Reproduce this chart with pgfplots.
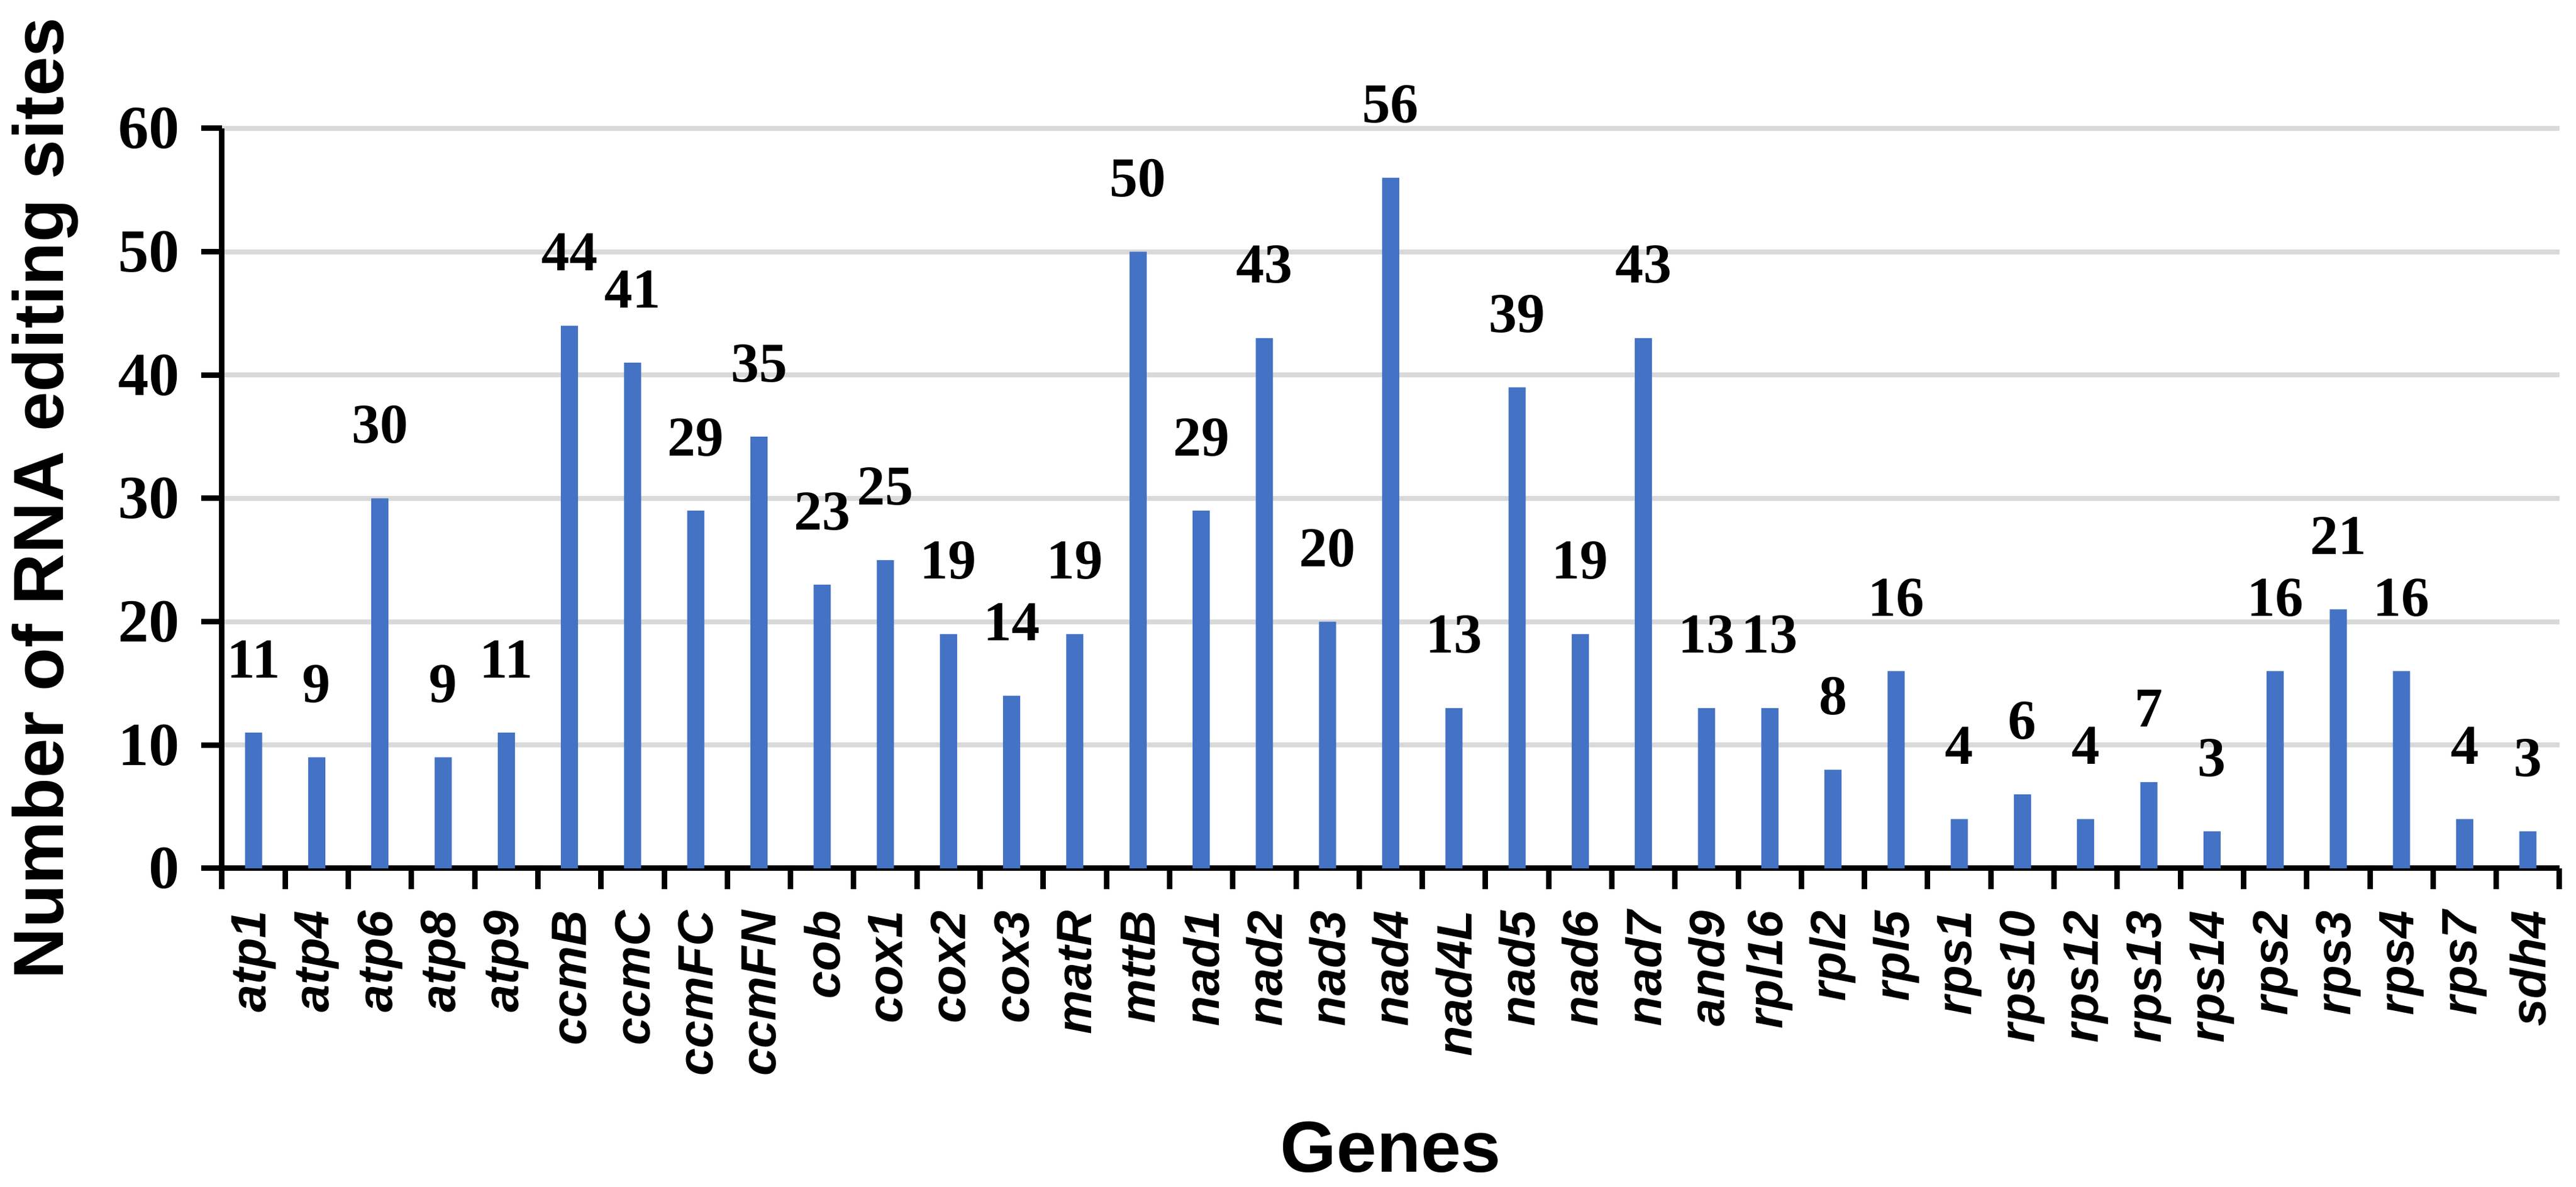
\documentclass[border=0pt]{standalone}
\usepackage{fontspec}
\setmainfont{Liberation Serif}
\setsansfont{Liberation Sans}
\usepackage{pgfplots}
\pgfplotsset{compat=1.18}
\usepackage{pgfplotstable}
\definecolor{barblue}{HTML}{4472C4}
\definecolor{gridgray}{HTML}{D9D9D9}
\pgfplotstableread{
x y
0 11
1 9
2 30
3 9
4 11
5 44
6 41
7 29
8 35
9 23
10 25
11 19
12 14
13 19
14 50
15 29
16 43
17 20
18 56
19 13
20 39
21 19
22 43
23 13
24 13
25 8
26 16
27 4
28 6
29 4
30 7
31 3
32 16
33 21
34 16
35 4
36 3
}\genedata
\begin{document}
\begin{tikzpicture}
\useasboundingbox (-36.3pt,-52.1pt) rectangle (384.9pt,142pt);
\begin{axis}[
  at={(0,0)}, anchor=south west,
  scale only axis,
  width=382.2pt, height=121pt,
  xmin=-0.5, xmax=36.5,
  ymin=0, ymax=60,
  ytick={0,10,...,60},
  xtick={-0.5,0.5,...,36.5},
  x tick label as interval,
  xticklabels={atp1,atp4,atp6,atp8,atp9,ccmB,ccmC,ccmFC,ccmFN,cob,cox1,cox2,cox3,matR,mttB,nad1,nad2,nad3,nad4,nad4L,nad5,nad6,nad7,and9,rpl16,rpl2,rpl5,rps1,rps10,rps12,rps13,rps14,rps2,rps3,rps4,rps7,sdh4},
  axis x line*=bottom,
  axis y line*=left,
  axis line style={black, line width=0.9pt},
  tick align=outside,
  major tick length=3.4pt,
  tick style={black, line width=0.9pt},
  ymajorgrids,
  major grid style={draw=gridgray, line width=0.8pt},
  /pgf/number format/assume math mode=true,
  yticklabel style={font=\fontsize{10}{12}\selectfont\bfseries},
  xticklabel style={font=\sffamily\bfseries\itshape\fontsize{8.1}{9.7}\selectfont, rotate=90, anchor=east},
  ylabel={Number of RNA editing sites},
  ylabel style={font=\sffamily\bfseries\fontsize{11.6}{14}\selectfont, at={(axis description cs:-0.0678,0.5)}, anchor=base},
  xlabel={Genes},
  xlabel style={font=\sffamily\bfseries\fontsize{11.8}{14}\selectfont, at={(axis description cs:0.5,-0.4107)}, anchor=base},
  clip=false,
]
\addplot[ybar, bar width=2.8pt, fill=barblue, draw=none,
  nodes near coords,
  every node near coord/.style={font=\fontsize{9.2}{11}\selectfont\bfseries, anchor=base, inner sep=0pt, yshift=9pt, black}]
  table[x=x, y=y] {\genedata};
\end{axis}
\end{tikzpicture}
\end{document}
